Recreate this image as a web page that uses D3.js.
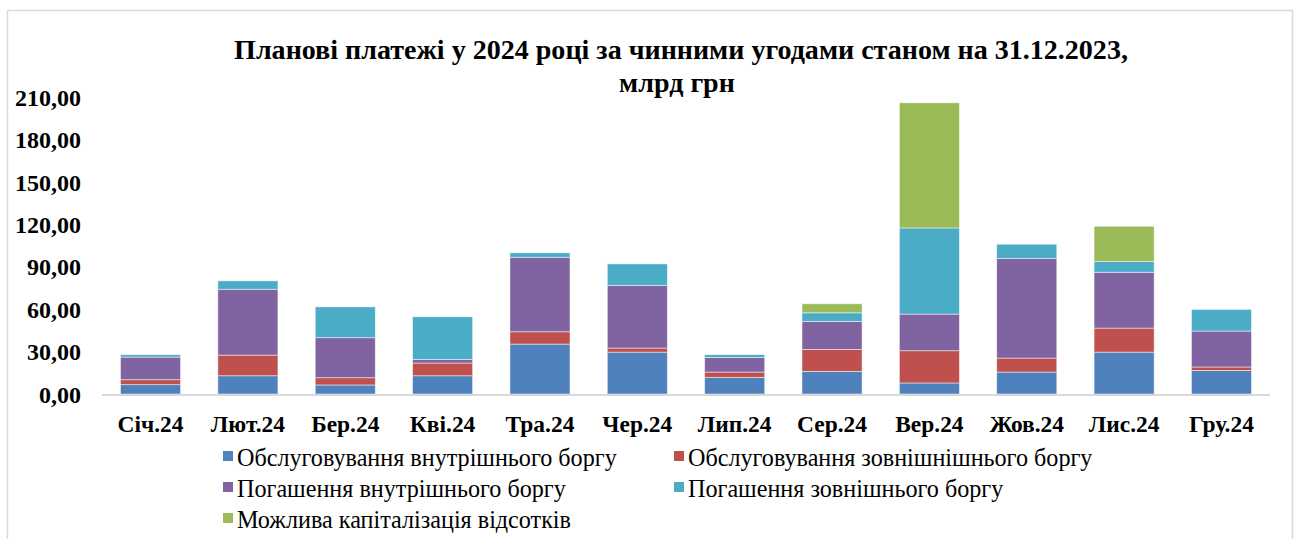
<!DOCTYPE html>
<html><head><meta charset="utf-8">
<script src="https://cdn.jsdelivr.net/npm/d3@7"></script>
<style>html,body{margin:0;padding:0;background:#fff;}svg{display:block;}</style>
</head><body>
<svg id="chart" width="1299" height="539"></svg>
<script>
const months = ["Січ.24","Лют.24","Бер.24","Кві.24","Тра.24","Чер.24","Лип.24","Сер.24","Вер.24","Жов.24","Лис.24","Гру.24"];
const domesticService = [6.6, 12.9, 6.4, 12.9, 35.3, 29.6, 11.8, 16.0, 7.8, 15.5, 29.6, 16.7];
const externalService = [3.5, 14.6, 5.1, 9.0, 8.7, 2.9, 3.7, 15.5, 22.8, 9.9, 17.0, 2.4];
const domesticRepay = [16.0, 46.6, 28.3, 2.6, 52.7, 44.2, 10.4, 19.8, 25.9, 70.4, 39.5, 25.4];
const externalRepay = [1.7, 5.9, 21.8, 30.1, 3.1, 15.3, 1.9, 6.1, 60.9, 10.1, 7.5, 15.3];
const capitalization = [0, 0, 0, 0, 0, 0, 0, 6.4, 88.5, 0, 25.0, 0];
const seriesNames = ["Обслуговування внутрішнього боргу","Обслуговування зовнішнішнього боргу","Погашення внутрішнього боргу","Погашення зовнішнього боргу","Можлива капіталізація відсотків"];
const seriesColors = ["#4F81BD","#C0504D","#8064A2","#4BACC6","#9BBB59"];
const yTicks = [0, 30, 60, 90, 120, 150, 180, 210];
const titleLines = ["Планові платежі у 2024 році за чинними угодами станом на 31.12.2023,", "млрд грн"];

const seriesData = [domesticService, externalService, domesticRepay, externalRepay, capitalization];
const rows = months.map((m, i) => {
  const r = {month: m};
  seriesData.forEach((s, k) => r["s" + k] = s[i]);
  return r;
});
const keys = seriesData.map((_, k) => "s" + k);
const stacked = d3.stack().keys(keys)(rows);

const svg = d3.select("#chart");
const SERIF = "Liberation Serif";

// size a font so that a sample text reaches a target width
function fitSize(sample, weight, target) {
  const t = svg.append("text").style("font-family", SERIF).style("font-weight", weight)
    .style("font-size", "20px").text(sample);
  const w = t.node().getComputedTextLength();
  t.remove();
  return 20 * target / w;
}
const titleSize = fitSize(titleLines[0], "bold", 894);
const yTickSize = fitSize("210,00", "bold", 66);
const xTickSize = fitSize("Січ.24", "bold", 66);
const legendSize = fitSize(seriesNames[0], "normal", 380);

// outer border
svg.append("rect").attr("x", 7.5).attr("y", 10.5).attr("width", 1285).attr("height", 560)
  .attr("fill", "#fff").attr("stroke", "#d9d9d9").attr("stroke-width", 1.5);

const x = d3.scaleBand().domain(months).range([102, 1270]).paddingInner(0.383).paddingOuter(0.19);
const y = d3.scaleLinear().domain([0, 210]).range([394, 97]);

// title
const title = svg.append("text").attr("text-anchor", "middle")
  .style("font-family", SERIF).style("font-weight", "bold").style("font-size", titleSize + "px").attr("fill", "#000");
title.append("tspan").attr("x", 681).attr("y", 59).text(titleLines[0]);
title.append("tspan").attr("x", 677).attr("y", 92).text(titleLines[1]);

// bars
const layer = svg.append("g").selectAll("g").data(stacked).join("g")
  .attr("fill", (d, i) => seriesColors[i]);
layer.selectAll("rect").data(d => d.filter(p => p[1] - p[0] > 0)).join("rect")
  .attr("x", d => x(d.data.month))
  .attr("width", x.bandwidth())
  .attr("y", d => y(d[1]))
  .attr("height", d => y(d[0]) - y(d[1]))
  .attr("stroke", "#ffffff").attr("stroke-opacity", 0.6).attr("stroke-width", 0.8);

// x baseline
svg.append("line").attr("x1", 102).attr("x2", 1270).attr("y1", y(0) + 1).attr("y2", y(0) + 1)
  .attr("stroke", "#d9d9d9").attr("stroke-width", 2);

// y axis
const yAxis = d3.axisLeft(y).tickValues(yTicks).tickSize(0).tickPadding(0)
  .tickFormat(d => d3.format(".2f")(d).replace(".", ","));
const yg = svg.append("g").attr("transform", "translate(81,0)").call(yAxis);
yg.select(".domain").remove();
yg.selectAll("text").style("font-family", SERIF).style("font-weight", "bold")
  .style("font-size", yTickSize + "px").attr("fill", "#000").attr("dy", "0.34em");

// x axis
const xAxis = d3.axisBottom(x).tickSize(0).tickPadding(0);
const xg = svg.append("g").attr("transform", "translate(0,432)").call(xAxis);
xg.select(".domain").remove();
xg.selectAll("text").style("font-family", SERIF).style("font-weight", "bold")
  .style("font-size", xTickSize + "px").attr("fill", "#000").attr("dy", "0");

// legend
const legendPos = [[223, 466], [674, 466], [223, 497], [674, 497], [223, 528]];
const lg = svg.append("g").selectAll("g").data(seriesNames).join("g")
  .attr("transform", (d, i) => `translate(${legendPos[i][0]},${legendPos[i][1]})`);
lg.append("rect").attr("x", 0).attr("y", -15).attr("width", 10).attr("height", 10)
  .attr("fill", (d, i) => seriesColors[i]);
lg.append("text").attr("x", 14).attr("y", 0)
  .style("font-family", SERIF).style("font-size", legendSize + "px").attr("fill", "#000").text(d => d);
</script>
</body></html>
